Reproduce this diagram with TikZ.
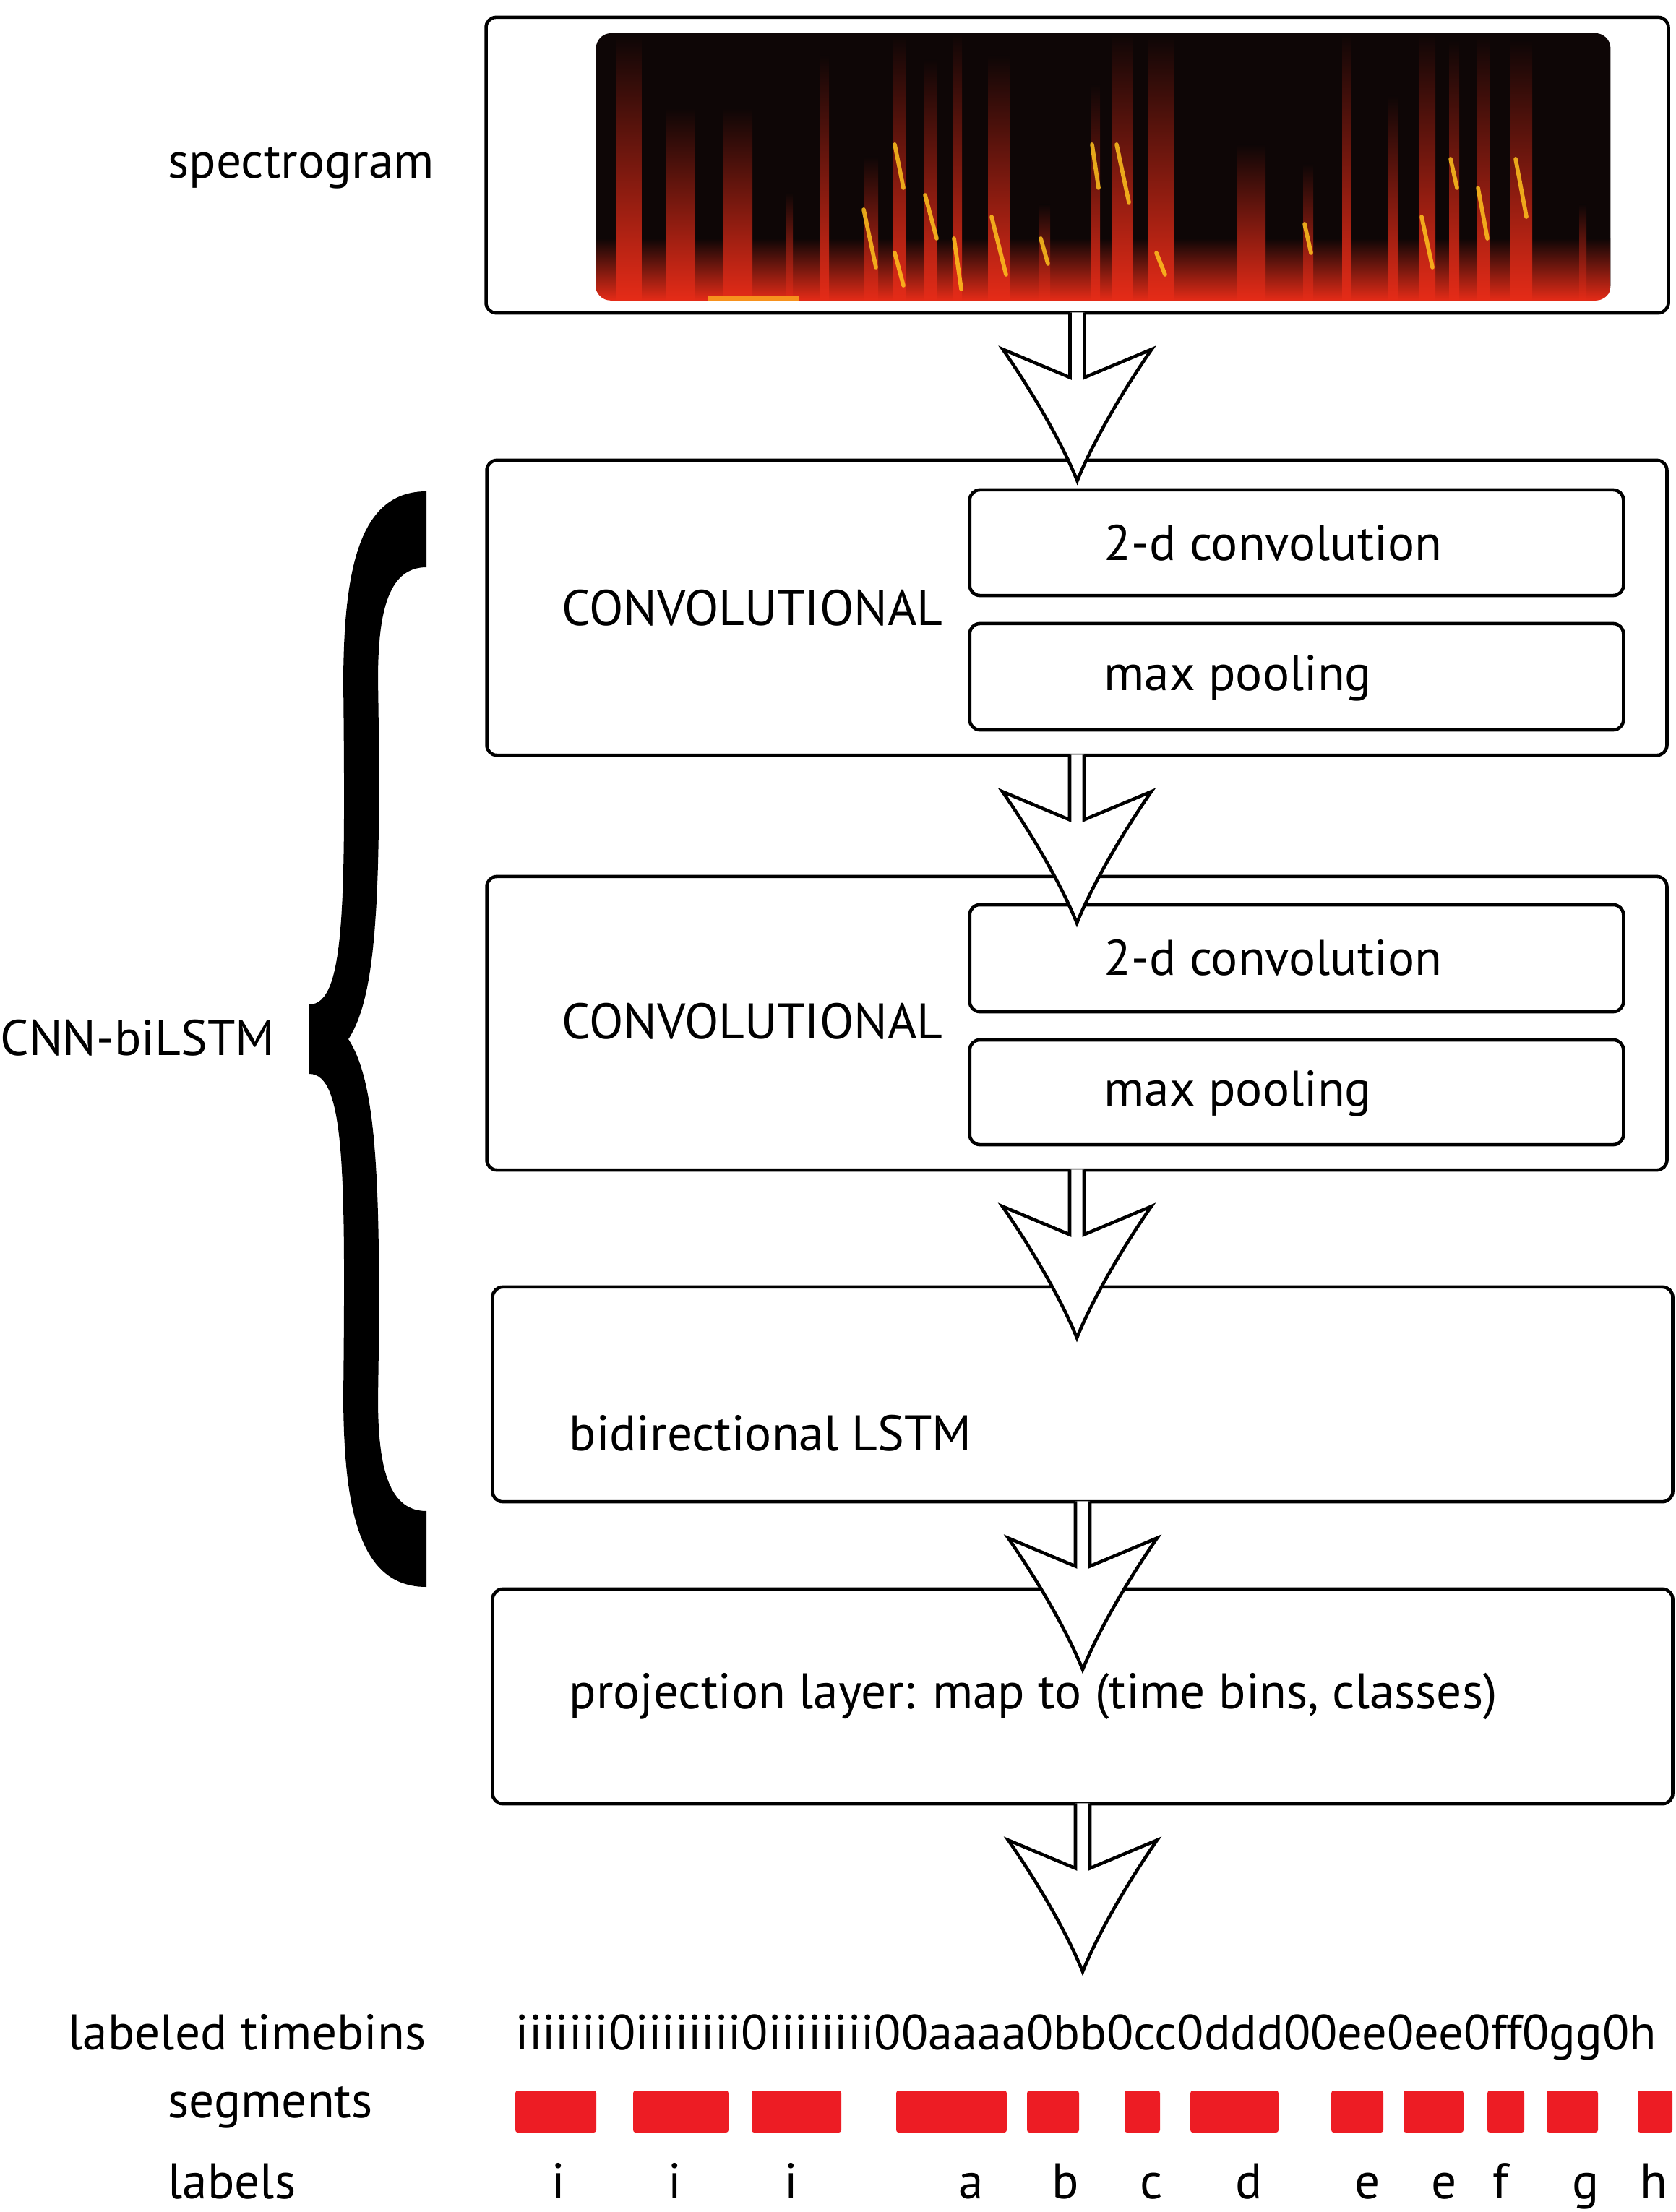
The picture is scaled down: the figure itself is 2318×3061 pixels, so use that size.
\documentclass[tikz,border=0pt]{standalone}
\usepackage{fontspec}
\setmainfont{PT Sans}
\definecolor{segred}{HTML}{ED1C24}
\definecolor{specdark}{HTML}{0E0606}
\definecolor{specred}{HTML}{E3221A}
\definecolor{spechot}{HTML}{FFC21E}
\tikzset{
  pics/hollow arrow/.style={code={
    \filldraw[fill=white, line width=1.3pt, miter limit=10]
      (-10,-3) -- (-10,87) -- (-103,48) .. controls (-60,110) and (-20,180) .. (0,230)
      .. controls (20,180) and (60,110) .. (103,48) -- (10,87) -- (10,-3);
  }}
}
\begin{document}
\begin{tikzpicture}[
    x=0.01cm, y=-0.01cm,
    layer/.style n args={2}{draw, line width=1.3pt, rounded corners=4pt, fill=white, minimum width=#1, minimum height=#2, inner sep=0pt},
    lbl/.style={font=\fontsize{19.7}{24}\selectfont, inner sep=0pt}
]
    \useasboundingbox (0,0) rectangle (2318,3061);

    \node[layer={16.35cm}{4.09cm}] (spec) at (1490.5,228.5) {};
    \node[layer={16.32cm}{4.08cm}] (conva) at (1490,841) {};
    \node[layer={16.32cm}{4.06cm}] (convb) at (1490,1416) {};
    \node[layer={16.32cm}{2.97cm}] (lstm) at (1498,1929.5) {};
    \node[layer={16.32cm}{2.97cm}] (proj) at (1498,2347.5) {};
    \node[layer={9.04cm}{1.46cm}] (conva1) at (1794,751) {};
    \node[layer={9.04cm}{1.47cm}] (conva2) at (1794,936.5) {};
    \node[layer={9.04cm}{1.48cm}] (convb1) at (1794,1326) {};
    \node[layer={9.04cm}{1.45cm}] (convb2) at (1794,1511.5) {};

    \node[fill=specdark, rounded corners=6pt, minimum width=14.03cm, minimum height=3.69cm, inner sep=0pt] (specimg) at (1526.5,230.5) {};
    \begin{scope}
        \clip[rounded corners=6pt] (specimg.south west) rectangle (specimg.north east);
        \shade[top color=specdark, bottom color=specred!90!orange] (825,330) rectangle (2228,416);
        \foreach \x/\t/\w in {870/50/35, 941/150/40, 1021/150/40, 1092/267/10, 1141/77/12,
            1205/217/20, 1244/50/18, 1287/83/18, 1325/47/12, 1382/77/30, 1445/283/16,
            1516/117/12, 1553/47/28, 1606/50/35, 1731/200/40, 1810/227/14, 1863/47/12,
            1927/133/14, 1975/47/22, 2012/57/14, 2052/50/18, 2105/57/30, 2190/283/10}
            \shade[top color=specdark, middle color=specred!78!specdark, bottom color=specred!90!orange]
                (\x-\w/2,\t) rectangle (\x+\w/2,416);
        \foreach \xa/\ya/\xb/\yb in {1195/290/1212/370, 1238/200/1250/260, 1280/270/1296/330,
            1320/330/1330/400, 1372/300/1392/380, 1511/200/1520/260, 1545/200/1562/280,
            1600/350/1612/380, 1967/300/1982/370, 2007/220/2016/260, 2045/260/2058/330,
            2097/220/2112/300, 1805/310/1814/350, 1238/350/1250/395, 1440/330/1450/365}
            \draw[spechot, line width=1.6pt, opacity=0.85, line cap=round] (\xa,\ya) -- (\xb,\yb);
        \fill[spechot!70!specred] (979,409) rectangle (1106,416);
    \end{scope}

    \fill (590,680) .. controls (500,680) and (476,780) .. (475,940)
        .. controls (478,1250) and (478,1390) .. (428,1390) -- (428,1486)
        .. controls (478,1486) and (478,1626) .. (475,1936)
        .. controls (476,2096) and (500,2196) .. (590,2196) -- (590,2091)
        .. controls (540,2091) and (523,2036) .. (523,1936)
        .. controls (528,1626) and (520,1496) .. (482,1438)
        .. controls (520,1380) and (528,1250) .. (523,940)
        .. controls (523,840) and (540,785) .. (590,785) -- cycle;

    \node[lbl, anchor=base west] (speclbl) at (232,247) {spectrogram};
    \node[lbl, anchor=base west] (cnnlbl) at (0,1460) {CNN-biLSTM};
    \node[lbl, anchor=base west] (convalbl) at (777,865) {CONVOLUTIONAL};
    \node[lbl, anchor=base west] (convblbl) at (777,1437) {CONVOLUTIONAL};
    \node[lbl, anchor=base west] at (1527,775) {2-d convolution};
    \node[lbl, anchor=base west] at (1527,955) {max pooling};
    \node[lbl, anchor=base west] at (1527,1349) {2-d convolution};
    \node[lbl, anchor=base west] at (1527,1530) {max pooling};
    \node[lbl, anchor=base west] (lstmlbl) at (787,2007) {bidirectional LSTM};
    \node[lbl, anchor=base west] (projlbl) at (787,2364) {projection layer: map to (time bins, classes)};

    \pic at (spec.south) {hollow arrow};
    \pic at (conva.south) {hollow arrow};
    \pic at (convb.south) {hollow arrow};
    \pic at (lstm.south) {hollow arrow};
    \pic at (proj.south) {hollow arrow};

    \node[lbl, anchor=base west] (binslbl) at (94,2836) {labeled timebins};
    \node[lbl, anchor=base west] (seglbl) at (232,2930) {segments};
    \node[lbl, anchor=base west] (lablbl) at (232,3042) {labels};
    \node[lbl, anchor=base west, font=\fontsize{19.45}{24}\selectfont] (bins) at (713,2836) {iiiiiii0iiiiiiii0iiiiiiii00aaaa0bb0cc0ddd00ee0ee0ff0gg0h};

    \foreach \a/\b in {713/825, 876/1008, 1040/1164, 1240/1393, 1421/1493, 1556/1605,
        1647/1769, 1842/1914, 1942/2025, 2058/2109, 2140/2211, 2266/2314}
        \fill[segred, rounded corners=1pt] (\a,2893) rectangle (\b,2951);
    \foreach \x/\c [count=\i] in {773/i, 934/i, 1095/i, 1344/a, 1474/b, 1593/c,
        1728/d, 1892/e, 1998/e, 2077/f, 2194/g, 2288/h}
        \node[lbl, anchor=base] (lab\i) at (\x,3042) {\c};
\end{tikzpicture}
\end{document}
